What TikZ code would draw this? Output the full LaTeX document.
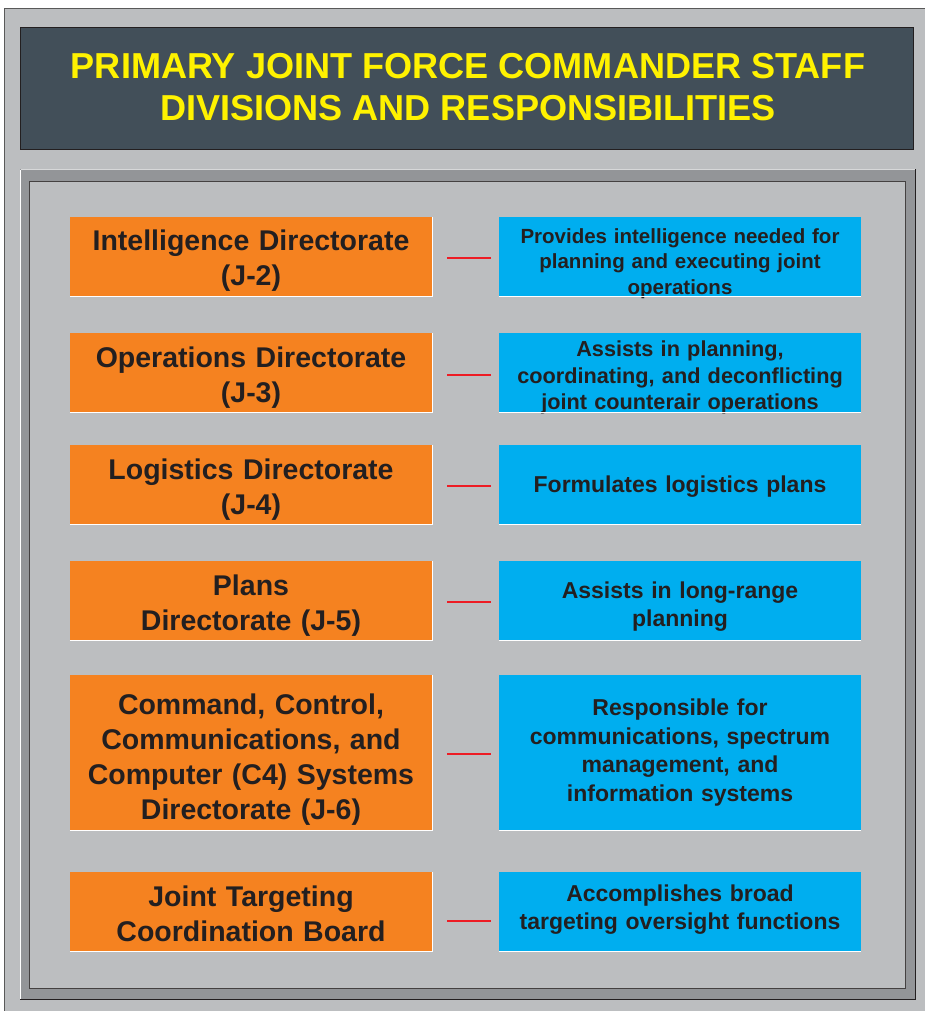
\documentclass[tikz,border=0pt]{standalone}
\usepackage{fontspec}
\setmainfont{Liberation Sans}
\usepackage{tikz}
\usetikzlibrary{positioning}

\definecolor{panelgray}{HTML}{BCBEC0}
\definecolor{framegray}{HTML}{939598}
\definecolor{titleslate}{HTML}{424F59}
\definecolor{titleyellow}{HTML}{FFF200}
\definecolor{diorange}{HTML}{F58220}
\definecolor{resblue}{HTML}{00AEEF}
\definecolor{inkdark}{HTML}{231F20}
\definecolor{linkred}{HTML}{ED1C24}

% lower a centred block of lines without changing the box size
\newcommand{\droptext}[2]{\raisebox{-#1}[\height][\depth]{\parbox{356pt}{\centering #2}}}

\begin{document}
\begin{tikzpicture}[x=1pt, y=-1pt,
    divbox/.style={fill=diorange, minimum width=362pt, minimum height=79pt,
      inner sep=0pt, text width=356pt, align=center, text=inkdark,
      font=\bfseries\fontsize{28.5}{35}\selectfont},
    respbox/.style={fill=resblue, minimum width=362pt, minimum height=79pt,
      inner sep=0pt, text width=356pt, align=center, text=inkdark,
      font=\bfseries\fontsize{23}{28}\selectfont},
    link/.style={draw=linkred, line width=2.8pt}]
      \clip (0, 0) rectangle (925, 1011);
      \fill[white] (0, 0) rectangle (925, 1011);
      % background and title
      \draw[fill=panelgray, draw=black!65, line width=1pt] (4.5, 8.5) rectangle (940, 1030);
      \draw[fill=titleslate, draw=inkdark, line width=0.8pt] (20.5, 27.5) rectangle (913.5, 149.5);
      \node[text=titleyellow, align=center, font=\bfseries\fontsize{36.1}{42}\selectfont]
        (title) at (468, 87) {PRIMARY JOINT FORCE COMMANDER STAFF\\DIVISIONS AND RESPONSIBILITIES};
      % frame
      \fill[framegray] (20, 169) rectangle (916, 1000);
      \draw[white, line width=1pt] (20.5, 170) -- (20.5, 999);
      \draw[panelgray!60!white, line width=1pt] (21, 169.5) -- (915, 169.5);
      \draw[inkdark, line width=1pt] (20, 999.5) -- (915.5, 999.5) -- (915.5, 169);
      \draw[fill=panelgray, draw=inkdark!85, line width=0.8pt] (29.5, 181.5) rectangle (905, 988);
      % directorates
      \node[divbox] (j2) at (251, 256.5) {\droptext{4.5pt}{Intelligence Directorate\\(J-2)}};
      \node[divbox] (j3) at (251, 372.5) {\droptext{5pt}{Operations Directorate\\(J-3)}};
      \node[divbox] (j4) at (251, 484.5) {\droptext{5pt}{Logistics Directorate\\(J-4)}};
      \node[divbox] (j5) at (251, 600.5) {\droptext{5pt}{Plans\\Directorate (J-5)}};
      \node[divbox, minimum height=155pt] (j6) at (251, 752.5)
        {\droptext{7.5pt}{Command, Control,\\Communications, and\\Computer (C4) Systems\\Directorate (J-6)}};
      \node[divbox] (jtcb) at (251, 911.5) {\droptext{2pt}{Joint Targeting\\Coordination Board}};
      % responsibilities
      \node[respbox, font=\bfseries\fontsize{20.5}{25.5}\selectfont] (r2) at (680, 256.5)
        {\droptext{7pt}{Provides intelligence needed for\\planning and executing joint\\operations}};
      \node[respbox, font=\bfseries\fontsize{21.7}{26.5}\selectfont] (r3) at (680, 372.5)
        {\droptext{5pt}{Assists in planning,\\coordinating, and deconflicting\\joint counterair operations}};
      \node[respbox] (r4) at (680, 484.5) {\droptext{2pt}{Formulates logistics plans}};
      \node[respbox] (r5) at (680, 600.5) {\droptext{6pt}{Assists in long-range\\planning}};
      \node[respbox, minimum height=155pt, font=\bfseries\fontsize{23}{28.5}\selectfont] (r6) at (680, 752.5)
        {Responsible for\\communications, spectrum\\management, and\\information systems};
      \node[respbox] (rtcb) at (680, 911.5) {\droptext{-2pt}{Accomplishes broad\\targeting oversight functions}};
      % white edge under the boxes
      \draw[white, line width=1pt] (j2.south west) -- (j2.south east) -- (j2.north east);
      \draw[white, line width=1pt] (j3.south west) -- (j3.south east) -- (j3.north east);
      \draw[white, line width=1pt] (j4.south west) -- (j4.south east) -- (j4.north east);
      \draw[white, line width=1pt] (j5.south west) -- (j5.south east) -- (j5.north east);
      \draw[white, line width=1pt] (j6.south west) -- (j6.south east) -- (j6.north east);
      \draw[white, line width=1pt] (jtcb.south west) -- (jtcb.south east) -- (jtcb.north east);
      \draw[white, line width=1pt] (r2.south west) -- (r2.south east);
      \draw[white, line width=1pt] (r3.south west) -- (r3.south east);
      \draw[white, line width=1pt] (r4.south west) -- (r4.south east);
      \draw[white, line width=1pt] (r5.south west) -- (r5.south east);
      \draw[white, line width=1pt] (r6.south west) -- (r6.south east);
      \draw[white, line width=1pt] (rtcb.south west) -- (rtcb.south east);
      % links
      \draw[link] ([xshift=15pt, yshift=-1.5pt]j2.east) -- ([xshift=-8pt, yshift=-1.5pt]r2.west);
      \draw[link] ([xshift=15pt, yshift=-2.5pt]j3.east) -- ([xshift=-8pt, yshift=-2.5pt]r3.west);
      \draw[link] ([xshift=15pt, yshift=-1.5pt]j4.east) -- ([xshift=-8pt, yshift=-1.5pt]r4.west);
      \draw[link] ([xshift=15pt, yshift=-1.5pt]j5.east) -- ([xshift=-8pt, yshift=-1.5pt]r5.west);
      \draw[link] ([xshift=15pt, yshift=-1.5pt]j6.east) -- ([xshift=-8pt, yshift=-1.5pt]r6.west);
      \draw[link] ([xshift=15pt, yshift=-9.5pt]jtcb.east) -- ([xshift=-8pt, yshift=-9.5pt]rtcb.west);
\end{tikzpicture}
\end{document}
